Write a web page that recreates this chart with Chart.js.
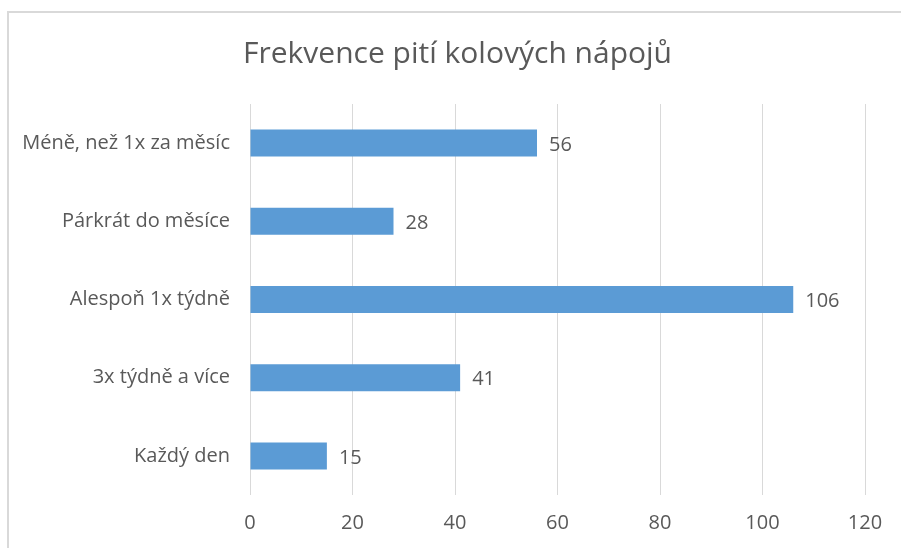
<!DOCTYPE html>
<html>
<head>
<meta charset="utf-8">
<script src="https://cdn.jsdelivr.net/npm/chart.js@4"></script>
<style>
    body { margin: 0; background: #fff; overflow: hidden; }
    #frame { position: absolute; left: 7px; top: 11px; width: 1000px; height: 1000px; border: 2px solid #d9d9d9; }
    #wrap { position: absolute; left: 0; top: 0; width: 901px; height: 548px; }
</style>
</head>
<body>
<div id="frame"></div>
<div id="wrap"><canvas id="barChart"></canvas></div>
<script>
// data
var categories = ['Méně, než 1x za měsíc', 'Párkrát do měsíce', 'Alespoň 1x týdně', '3x týdně a více', 'Každý den'];
var values = [56, 28, 106, 41, 15];
var xTicks = [0, 20, 40, 60, 80, 100, 120];

var fontFamily = '"Open Sans", sans-serif';
var textColor = '#595959';

// draws the value next to each bar
var valueLabels = {
    id: 'valueLabels',
    afterDatasetsDraw: function (chart) {
        var ctx = chart.ctx;
        var meta = chart.getDatasetMeta(0);
        ctx.save();
        ctx.font = '20px ' + fontFamily;
        ctx.fillStyle = textColor;
        ctx.textAlign = 'left';
        ctx.textBaseline = 'middle';
        meta.data.forEach(function (bar, i) {
            ctx.fillText(values[i], bar.x + 12, bar.y + 2);
        });
        ctx.restore();
    }
};

// title in the picture sits a bit right of the canvas centre
var shiftTitle = {
    id: 'shiftTitle',
    afterLayout: function (chart) {
        if (chart.titleBlock) chart.titleBlock.left = 50;
    }
};

var barChartCanvas = document.getElementById('barChart').getContext('2d');

new Chart(barChartCanvas, {
    type: 'bar',
    data: {
        labels: categories,
        datasets: [{
            data: values,
            backgroundColor: '#5b9bd5',
            borderWidth: 0,
            categoryPercentage: 1,
            barPercentage: 0.345
        }]
    },
    options: {
        indexAxis: 'y',
        responsive: true,
        maintainAspectRatio: false,
        animation: false,
        layout: { padding: { left: 0, right: 36, top: 0, bottom: 0 } },
        plugins: {
            legend: { display: false },
            tooltip: { enabled: false },
            title: {
                display: true,
                text: 'Frekvence pití kolových nápojů',
                color: textColor,
                font: { family: fontFamily, size: 30, weight: 'normal' },
                padding: { top: 36, bottom: 32 }
            }
        },
        scales: {
            x: {
                min: xTicks[0],
                max: xTicks[xTicks.length - 1],
                afterBuildTicks: function (axis) {
                    axis.ticks = xTicks.map(function (v) { return { value: v }; });
                },
                grid: { color: '#d9d9d9', lineWidth: 1, drawTicks: false },
                border: { display: false },
                ticks: {
                    color: textColor,
                    font: { family: fontFamily, size: 20 },
                    padding: 16
                },
                afterFit: function (axis) { axis.height = 53; }
            },
            y: {
                grid: { display: false },
                border: { display: false },
                ticks: {
                    color: textColor,
                    font: { family: fontFamily, size: 20 },
                    padding: 12
                },
                afterFit: function (axis) { axis.width = 250; }
            }
        }
    },
    plugins: [valueLabels, shiftTitle]
});
</script>
</body>
</html>
